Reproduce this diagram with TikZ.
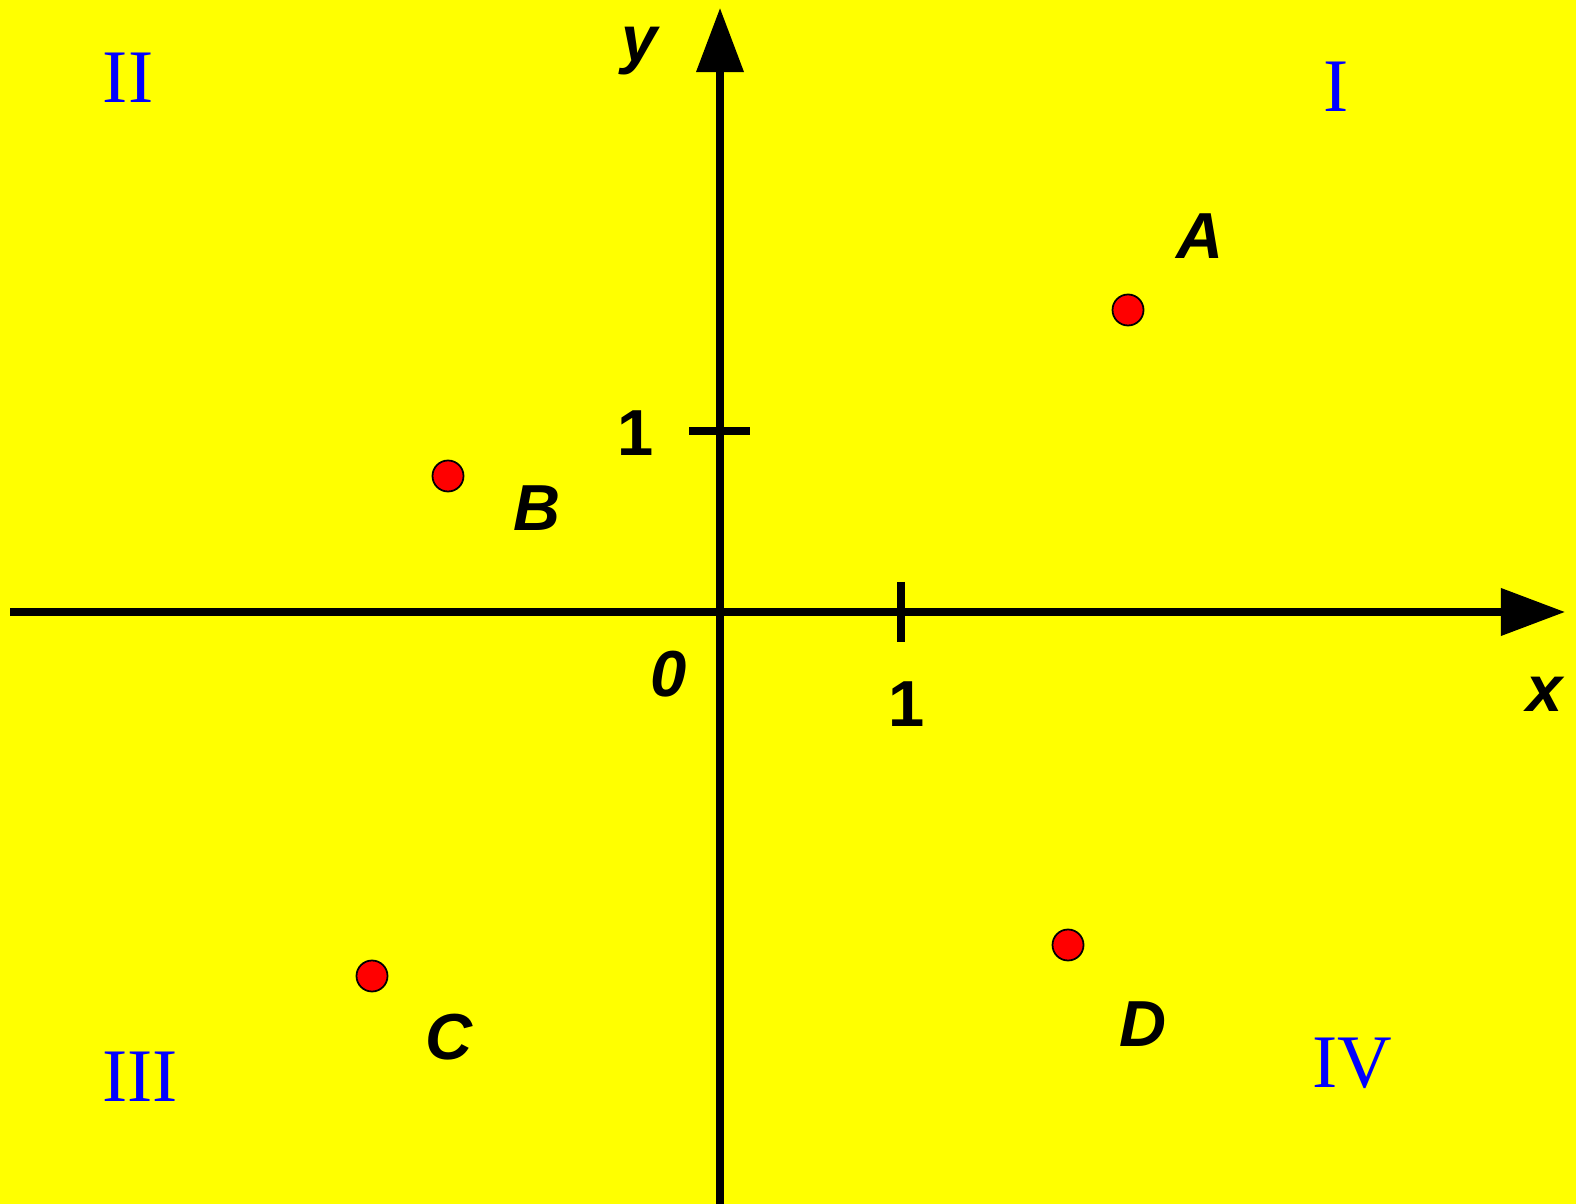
\documentclass[tikz,border=0pt]{standalone}
\usepackage{fontspec}
\setmainfont{Liberation Sans}
\newfontfamily\romanfont{Liberation Serif}
\usetikzlibrary{arrows.meta}
\definecolor{bgyellow}{RGB}{255,255,0}
\definecolor{ptred}{RGB}{255,0,0}
\definecolor{quadblue}{RGB}{0,0,255}
\tikzset{
  axisline/.style={line width=2pt, draw=black, -{Triangle[length=0.64cm,width=0.46cm]}},
  tickline/.style={line width=2pt, draw=black},
  ptdot/.style={circle, fill=ptred, draw=black, line width=0.5pt, minimum size=0.31cm, inner sep=0pt},
  lbl/.style={anchor=base, inner sep=0pt, font=\fontsize{18.5}{20}\selectfont\bfseries\itshape},
  numlbl/.style={anchor=base, inner sep=0pt, font=\fontsize{18.5}{20}\selectfont\bfseries},
  quad/.style={anchor=base, inner sep=0pt, text=quadblue, font=\fontsize{21.5}{24}\selectfont\romanfont},
}
\begin{document}
\begin{tikzpicture}[x=0.01cm, y=-0.01cm]
  \fill[bgyellow] (0,0) rectangle (1576,1204);
  \useasboundingbox (0,0) rectangle (1576,1204);
  % axes
  \coordinate (xs) at (10,612);
  \coordinate (xe) at (1565,612);
  \coordinate (ys) at (720,1204);
  \coordinate (ye) at (720,8);
  \draw[axisline] (xs) -- (xe);
  \draw[axisline] (ys) -- (ye);
  % ticks
  \coordinate (xt1) at (901,582);
  \coordinate (xt2) at (901,642);
  \coordinate (yt1) at (689,431);
  \coordinate (yt2) at (750,431);
  \draw[tickline] (xt1) -- (xt2);
  \draw[tickline] (yt1) -- (yt2);
  % axis labels
  \node[lbl] (xl) at (1545,712) {x};
  \node[lbl] (yl) at (640,62) {y};
  \node[lbl] (ol) at (669,697) {0};
  \node[numlbl] (onex) at (907,727) {1};
  \node[numlbl] (oney) at (636,456) {1};
  % points
  \node[ptdot] (pA) at (1128,310) {};
  \node[ptdot] (pB) at (448,476) {};
  \node[ptdot] (pC) at (372,976) {};
  \node[ptdot] (pD) at (1068,945) {};
  \node[lbl] (lA) at (1200,259) {A};
  \node[lbl] (lB) at (537,531) {B};
  \node[lbl] (lC) at (449,1059) {C};
  \node[lbl] (lD) at (1143,1046) {D};
  % quadrants
  \node[quad] (q1) at (1336,112) {I};
  \node[quad] (q2) at (128,103) {II};
  \node[quad] (q3) at (140,1101) {III};
  \node[quad] (q4) at (1352,1087) {IV};
\end{tikzpicture}
\end{document}
